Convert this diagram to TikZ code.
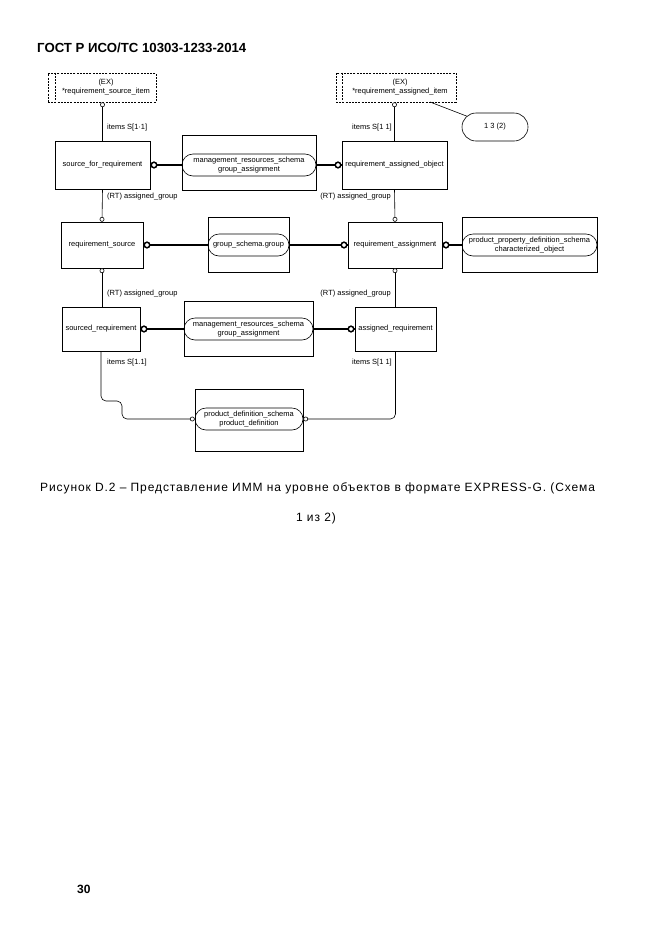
\documentclass[tikz,border=0pt]{standalone}
\usepackage{fontspec}
\setmainfont{Liberation Sans}
\usetikzlibrary{calc,shapes.misc}
\begin{document}
\begin{tikzpicture}[x=1pt,y=-1pt,
  txt/.style={font=\fontsize{7.5}{9}\selectfont, inner sep=0pt},
  ent/.style={draw, line width=0.6pt, font=\fontsize{7.5}{9}\selectfont, inner sep=0pt, minimum height=48},
  outerbox/.style={draw, line width=0.6pt, inner sep=0pt, minimum height=55},
  rnd/.style={draw, line width=0.6pt, rounded rectangle, inner sep=0pt, minimum height=22, align=center, font=\fontsize{7.5}{8.5}\selectfont},
  exbox/.style={draw, line width=0.6pt, dash pattern=on 2pt off 1.2pt, inner sep=0pt, minimum height=29},
  rel/.style={line width=0.6pt},
  thk/.style={line width=1.9pt},
  scirc/.style={draw, line width=0.6pt, fill=white},
  bcirc/.style={draw, line width=1.5pt, fill=white}
]
\useasboundingbox (0,0) rectangle (661,935);

% header
\node[anchor=base west, inner sep=0pt, font=\fontsize{13.2}{15}\selectfont\bfseries] (hdr) at (37,52) {ГОСТ Р ИСО/ТС 10303-1233-2014};

% EX boxes
\node[exbox, minimum width=108] (exL) at (102,87.5) {};
\draw[rel, dash pattern=on 2pt off 1.2pt] ($(exL.north west)+(8,0)$) -- ($(exL.south west)+(8,0)$);
\node[txt, align=center] (exLt) at ($(exL.center)+(4,0)$) {(EX)\\*requirement\_source\_item};

\node[exbox, minimum width=120] (exR) at (396,87.5) {};
\draw[rel, dash pattern=on 2pt off 1.2pt] ($(exR.north west)+(7,0)$) -- ($(exR.south west)+(7,0)$);
\node[txt, align=center] (exRt) at ($(exR.center)+(4,0)$) {(EX)\\*requirement\_assigned\_item};

\node[draw, line width=0.6pt, rounded rectangle, minimum width=66, minimum height=28, inner sep=0pt, font=\fontsize{7.5}{9}\selectfont] (pg) at (495,127) {1 3 (2)};
\coordinate (exRc) at (430,102);
\draw[rel] (exRc) -- (pg);

% row 1
\node[ent, minimum width=95] (sfr) at (102.5,165) {source\_for\_requirement};
\node[outerbox, minimum width=134] (m1) at (249,163) {};
\node[rnd, minimum width=134] (m1r) at (249,165) {management\_resources\_schema\\group\_assignment};
\node[ent, minimum width=105] (rao) at (394.5,165) {requirement\_assigned\_object};

% row 2
\node[ent, minimum width=82, minimum height=46] (rs) at (102,245) {requirement\_source};
\node[outerbox, minimum width=81] (gs) at (248.5,245) {};
\node[rnd, minimum width=81] (gsr) at (248.5,245) {group\_schema.group};
\node[ent, minimum width=94, minimum height=46] (ra) at (395,245) {requirement\_assignment};
\node[outerbox, minimum width=135] (pp) at (529.5,245) {};
\node[rnd, minimum width=135] (ppr) at (529.5,245) {product\_property\_definition\_schema\\characterized\_object};

% row 3
\node[ent, minimum width=78, minimum height=44] (sr) at (101,329) {sourced\_requirement};
\node[outerbox, minimum width=129] (m2) at (248.5,329) {};
\node[rnd, minimum width=129] (m2r) at (248.5,329) {management\_resources\_schema\\group\_assignment};
\node[ent, minimum width=81, minimum height=44] (ar) at (395.5,329) {assigned\_requirement};

% row 4
\node[outerbox, minimum width=108, minimum height=62] (pd) at (249,420) {};
\node[rnd, minimum width=108] (pdr) at (249,419) {product\_definition\_schema\\product\_definition};

% vertical relations
\draw[rel] (exL.south -| sfr.north) -- (sfr.north);
\draw[scirc] ($(exL.south -| sfr.north)+(0,2.4)$) circle (2.1);
\draw[rel] (exR.south -| rao.north) -- (rao.north);
\draw[scirc] ($(exR.south -| rao.north)+(0,2.4)$) circle (2.1);
\draw[rel] (sfr.south) -- (rs.north);
\draw[scirc] ($(rs.north)+(0,-2.4)$) circle (2.1);
\draw[rel] (rao.south) -- (ra.north);
\draw[scirc] ($(ra.north)+(0,-2.4)$) circle (2.1);
\draw[rel] (rs.south) -- (rs.south |- sr.north);
\draw[scirc] ($(rs.south)+(0,2.4)$) circle (2.1);
\draw[rel] (ra.south) -- (ra.south |- ar.north);
\draw[scirc] ($(ra.south)+(0,2.4)$) circle (2.1);

% thick relations
\draw[thk] (sfr.east) -- (m1r.west);
\draw[bcirc] ($(sfr.east)+(3.7,0)$) circle (2.8);
\draw[thk] (m1r.east) -- (rao.west);
\draw[bcirc] ($(rao.west)+(-3.7,0)$) circle (2.8);
\draw[thk] (rs.east) -- (gsr.west);
\draw[bcirc] ($(rs.east)+(3.7,0)$) circle (2.8);
\draw[thk] (gsr.east) -- (ra.west);
\draw[bcirc] ($(ra.west)+(-3.7,0)$) circle (2.8);
\draw[thk] (ra.east) -- (ppr.west);
\draw[bcirc] ($(ra.east)+(3.7,0)$) circle (2.8);
\draw[thk] (sr.east) -- (m2r.west);
\draw[bcirc] ($(sr.east)+(3.7,0)$) circle (2.8);
\draw[thk] (m2r.east) -- (ar.west);
\draw[bcirc] ($(ar.west)+(-3.7,0)$) circle (2.8);

% bottom relations
\coordinate (bendL) at (122,401);
\draw[rel, rounded corners=5pt] (sr.south) |- (bendL) |- (pdr.west);
\draw[scirc] ($(pdr.west)+(-2.4,0)$) circle (2.1);
\draw[rel, rounded corners=5pt] (ar.south) |- (pdr.east);
\draw[scirc] ($(pdr.east)+(2.4,0)$) circle (2.1);

% labels
\node[txt, anchor=west] (l1) at (107,128) {items S[1·1]};
\node[txt, anchor=east] (l2) at (392,128) {items S[1 1]};
\node[txt, anchor=west] (l3) at (107,197) {(RT) assigned\_group};
\node[txt, anchor=east] (l4) at (391,197) {(RT) assigned\_group};
\node[txt, anchor=west] (l5) at (107,294) {(RT) assigned\_group};
\node[txt, anchor=east] (l6) at (391,294) {(RT) assigned\_group};
\node[txt, anchor=west] (l7) at (107,363) {items S[1.1]};
\node[txt, anchor=east] (l8) at (392,363) {items S[1 1]};

% caption
\node[anchor=base west, inner sep=0pt, font=\fontsize{12}{14}\selectfont\addfontfeature{LetterSpace=7.5}] (cap1) at (40,491) {Рисунок D.2 –  Представление ИММ на уровне объектов в формате EXPRESS-G. (Схема};
\node[anchor=base, inner sep=0pt, font=\fontsize{12}{14}\selectfont\addfontfeature{LetterSpace=7.5}] (cap2) at (316,521) {1 из 2)};

% page number
\node[anchor=base west, inner sep=0pt, font=\fontsize{12}{14}\selectfont\bfseries] (pn) at (77,893) {30};
\end{tikzpicture}
\end{document}
